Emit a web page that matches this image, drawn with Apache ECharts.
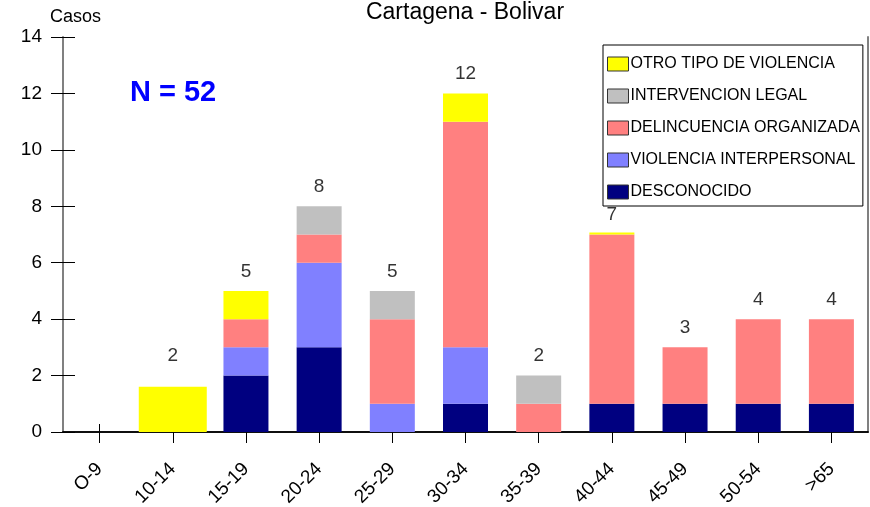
<!DOCTYPE html>
<html>
<head>
<meta charset="utf-8">
<script src="https://cdn.jsdelivr.net/npm/echarts@6/dist/echarts.min.js"></script>
<style>
  html, body { margin: 0; padding: 0; background: #fff; }
  #main { width: 870px; height: 507px; }
</style>
</head>
<body>
<div id="main"></div>
<script>
// grupos de edad
let categories = ['O-9', '10-14', '15-19', '20-24', '25-29', '30-34', '35-39', '40-44', '45-49', '50-54', '>65'];

let desconocido = [0, 0, 2, 3, 0, 1, 0, 1, 1, 1, 1];
let interpersonal = [0, 0, 1, 3, 1, 2, 0, 0, 0, 0, 0];
let delincuencia = [0, 0, 1, 1, 3, 8, 1, 6, 2, 3, 3];
let legal = [0, 0, 0, 1, 1, 0, 1, 0, 0, 0, 0];
let otro = [0, '-', 1, 0, 0, 1, 0, 0.07, 0, 0, 0];
// caja amarilla ancha de 10-14
let otroAncho = ['-', 1.6, '-', '-', '-', '-', '-', '-', '-', '-', '-'];
let totales = ['-', 2, 5, 8, 5, 12, 2, 7, 3, 4, 4];

let yTicks = [0, 2, 4, 6, 8, 10, 12, 14];

let font = 'Liberation Sans, Arial, sans-serif';

let chart = echarts.init(document.getElementById('main'));

function barra(name, data, color) {
  return {
    name: name,
    type: 'bar',
    stack: 'total',
    data: data,
    barWidth: 45,
    itemStyle: { color: color },
    emphasis: { disabled: true }
  };
}

let option = {
  animation: false,
  textStyle: { fontFamily: font },
  title: {
    text: 'Cartagena - Bolivar',
    left: 460,
    textAlign: 'center',
    top: -4,
    textStyle: { fontSize: 23, fontWeight: 'normal', color: '#000', fontFamily: font }
  },
  legend: {
    orient: 'vertical',
    left: 603,
    top: 45,
    padding: [11, 3, 6, 4],
    borderColor: '#000',
    borderWidth: 1,
    itemWidth: 21,
    itemHeight: 14,
    itemGap: 16,
    icon: 'rect',
    itemStyle: { borderColor: '#333', borderWidth: 1 },
    textStyle: { fontSize: 16, lineHeight: 14, color: '#000', padding: [0, 0, 0, -3], fontFamily: font },
    data: ['OTRO TIPO DE VIOLENCIA', 'INTERVENCION LEGAL', 'DELINCUENCIA ORGANIZADA', 'VIOLENCIA INTERPERSONAL', 'DESCONOCIDO']
  },
  graphic: [
    {
      type: 'text',
      left: 50,
      top: 8,
      style: { text: 'Casos', fontSize: 18, fill: '#000', fontFamily: font }
    },
    {
      type: 'text',
      left: 130,
      top: 78,
      style: { text: 'N = 52', fontSize: 29, fontWeight: 'bold', fill: '#0000FF', fontFamily: font }
    }
  ],
  grid: { left: 63, right: 2, top: 37, bottom: 75, outerBoundsMode: 'none' },
  xAxis: [
    {
      type: 'category',
      data: categories,
      position: 'bottom',
      axisLine: { lineStyle: { color: '#000', width: 1.5 } },
      axisTick: { show: false },
      axisLabel: { rotate: 45, margin: 34, fontSize: 19, color: '#000', interval: 0, fontFamily: font }
    },
    {
      type: 'category',
      data: categories,
      position: 'top',
      axisLine: { lineStyle: { color: '#000', width: 1.5 } },
      axisTick: { show: false },
      axisLabel: { show: false }
    },
    {
      // marcas que cruzan el eje
      type: 'category',
      data: categories,
      position: 'bottom',
      offset: 11,
      axisLine: { show: false, onZero: false },
      axisTick: { show: true, inside: true, alignWithLabel: true, length: 19, lineStyle: { color: '#000' }, interval: 0 },
      axisLabel: { show: false }
    }
  ],
  yAxis: [
    {
      type: 'value',
      min: 0,
      max: 14,
      interval: 2,
      position: 'left',
      splitLine: { show: false },
      axisLine: { show: true, lineStyle: { color: '#808080', width: 2 } },
      axisTick: { show: true, length: 12, lineStyle: { color: '#000' } },
      axisLabel: { margin: 21, fontSize: 19, color: '#000', fontFamily: font,
        formatter: function (v) { return yTicks.indexOf(v) >= 0 ? v : ''; } }
    },
    {
      type: 'value',
      min: 0,
      max: 14,
      interval: 2,
      position: 'right',
      splitLine: { show: false },
      axisLine: { show: true, lineStyle: { color: '#808080', width: 2 } },
      axisTick: { show: false },
      axisLabel: { show: false }
    },
    {
      type: 'value',
      min: 0,
      max: 14,
      interval: 2,
      position: 'left',
      splitLine: { show: false },
      axisLine: { show: false },
      axisTick: { show: true, inside: true, length: 12, lineStyle: { color: '#000' } },
      axisLabel: { show: false }
    }
  ],
  series: [
    barra('DESCONOCIDO', desconocido, '#000080'),
    barra('VIOLENCIA INTERPERSONAL', interpersonal, '#8080FF'),
    barra('DELINCUENCIA ORGANIZADA', delincuencia, '#FF8080'),
    barra('INTERVENCION LEGAL', legal, '#C0C0C0'),
    barra('OTRO TIPO DE VIOLENCIA', otro, '#FFFF00'),
    {
      name: 'OTRO TIPO DE VIOLENCIA',
      type: 'bar',
      xAxisIndex: 1,
      data: otroAncho,
      barWidth: 68,
      itemStyle: { color: '#FFFF00' },
      emphasis: { disabled: true }
    },
    {
      name: 'total',
      type: 'scatter',
      data: totales,
      symbolSize: 0,
      silent: true,
      label: {
        show: true,
        position: 'top',
        distance: 10,
        fontSize: 19,
        color: '#000',
        fontFamily: font
      }
    }
  ]
};

chart.setOption(option);
</script>
</body>
</html>
